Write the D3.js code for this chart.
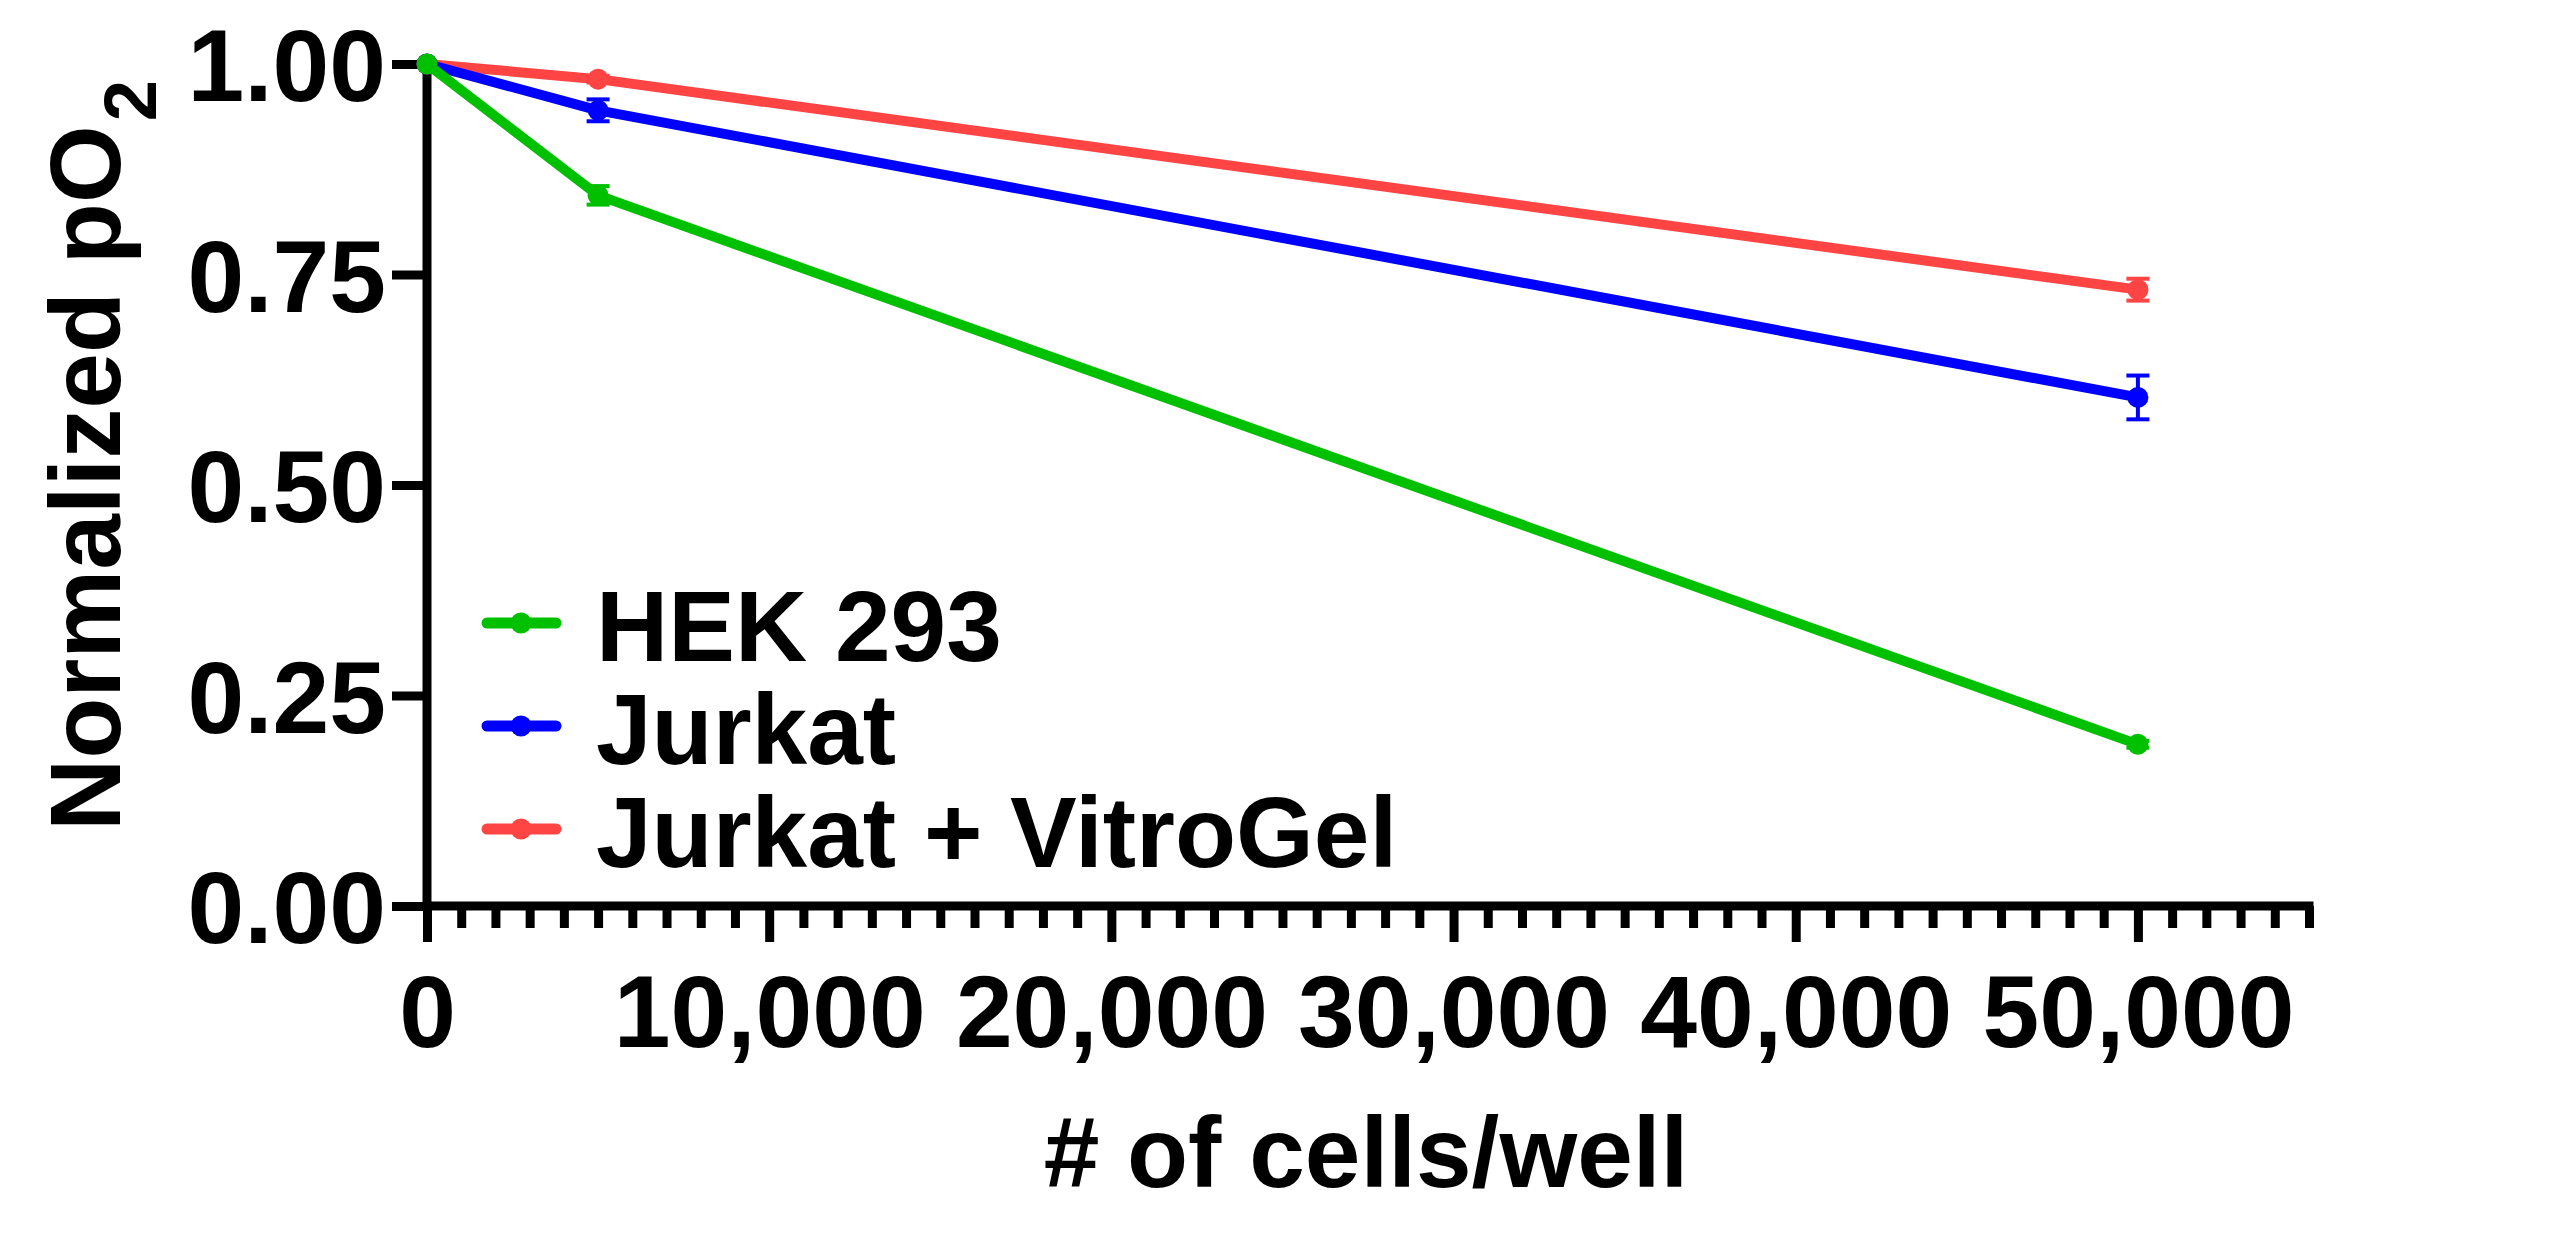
<!doctype html>
<html>
  <head>
    <meta charset="utf-8">
    <title>Normalized pO2 vs cells per well</title>
    <script src="https://cdn.jsdelivr.net/npm/d3@7"></script>
    <style>
      body { margin: 0; background: #fff; }
      text { font-family: "Liberation Sans", Arial, sans-serif; font-weight: bold; fill: #000; }
    </style>
  </head>
  <body>
    <div id="chart"></div>
  </body>
  <script>
    // cells per well
    var cells = [0, 5000, 50000];

    var seriesNames = ["HEK 293", "Jurkat", "Jurkat + VitroGel"];
    var seriesColours = ["#00c000", "#0000ff", "#ff4444"];

    // normalized pO2 (mean) and error
    var hekMean = [1.0, 0.844, 0.192];
    var hekErr = [0, 0.011, 0.004];
    var jurkatMean = [1.0, 0.945, 0.604];
    var jurkatErr = [0, 0.013, 0.026];
    var vitroMean = [1.0, 0.982, 0.732];
    var vitroErr = [0, 0.004, 0.013];

    var yTicks = [0, 0.25, 0.5, 0.75, 1.0];
    var xMajorTicks = [0, 10000, 20000, 30000, 40000, 50000];

    var width = 2560,
      height = 1234;

    var x = d3.scaleLinear().domain([0, 55000]).range([427, 2309]);
    var y = d3.scaleLinear().domain([0, 1]).range([906, 64]);

    var svg = d3.select("#chart")
                .append("svg")
                .attr("width", width)
                .attr("height", height);

    var series = [
      { name: seriesNames[0], colour: seriesColours[0], mean: hekMean, err: hekErr },
      { name: seriesNames[1], colour: seriesColours[1], mean: jurkatMean, err: jurkatErr },
      { name: seriesNames[2], colour: seriesColours[2], mean: vitroMean, err: vitroErr }
    ];

    // minor ticks every 1000 along x
    var xMinorTicks = d3.range(1000, 55001, 1000).filter(function(v) {
      return xMajorTicks.indexOf(v) < 0;
    });

    var minorAxis = svg.append("g")
      .attr("transform", "translate(0," + y(0) + ")")
      .call(d3.axisBottom(x).tickValues(xMinorTicks).tickSize(22).tickSizeOuter(0).tickFormat(""));
    minorAxis.select(".domain").remove();
    minorAxis.selectAll("line").attr("stroke", "#000").attr("stroke-width", 9);

    var xAxis = svg.append("g")
      .attr("transform", "translate(0," + y(0) + ")")
      .call(d3.axisBottom(x).tickValues(xMajorTicks).tickSize(36).tickSizeOuter(0)
        .tickFormat(d3.format(",")));
    xAxis.select(".domain").attr("stroke", "#000").attr("stroke-width", 9)
      .attr("d", "M" + x(0) + ",0H" + (x(55000) + 4.5));
    xAxis.selectAll("line").attr("stroke", "#000").attr("stroke-width", 9);
    xAxis.selectAll("text")
      .attr("y", 141)
      .attr("dy", null)
      .style("font-size", "102px")
      .style("font-family", "'Liberation Sans', Arial, sans-serif");

    var yAxis = svg.append("g")
      .attr("transform", "translate(" + x(0) + ",0)")
      .call(d3.axisLeft(y).tickValues(yTicks).tickSize(35).tickSizeOuter(0)
        .tickFormat(d3.format(".2f")));
    yAxis.select(".domain").attr("stroke", "#000").attr("stroke-width", 9)
      .attr("d", "M0," + (y(1) - 4.5) + "V" + y(0));
    yAxis.selectAll("line").attr("stroke", "#000").attr("stroke-width", 9);
    yAxis.selectAll("text")
      .attr("x", -41)
      .attr("dy", "0.36em")
      .style("font-size", "102px")
      .style("font-family", "'Liberation Sans', Arial, sans-serif");

    // axis titles
    var yTitle = svg.append("text")
      .attr("transform", "translate(120,831) rotate(-90)")
      .attr("text-anchor", "start")
      .style("font-size", "100px")
      .text("Normalized pO");
    yTitle.append("tspan")
      .attr("dx", 4)
      .attr("dy", 36)
      .style("font-size", "74px")
      .text("2");

    svg.append("text")
      .attr("x", 1366)
      .attr("y", 1187)
      .attr("text-anchor", "middle")
      .style("font-size", "100px")
      .text("# of cells/well");

    var line = d3.line()
      .x(function(d, i) { return x(cells[i]); })
      .y(function(d) { return y(d); });

    // draw last series first so HEK 293 sits on top
    var drawOrder = series.slice().reverse();

    drawOrder.forEach(function(s) {
      var g = svg.append("g");

      g.append("path")
        .attr("d", line(s.mean))
        .attr("fill", "none")
        .attr("stroke", s.colour)
        .attr("stroke-width", 10)
        .attr("stroke-linejoin", "round");

      var pts = s.mean.map(function(m, i) {
        return { x: cells[i], m: m, e: s.err[i] };
      });

      var bars = g.selectAll(".err")
        .data(pts.filter(function(d) { return d.e > 0; }))
        .enter()
        .append("g");

      bars.append("line")
        .attr("x1", function(d) { return x(d.x); })
        .attr("x2", function(d) { return x(d.x); })
        .attr("y1", function(d) { return y(d.m + d.e); })
        .attr("y2", function(d) { return y(d.m - d.e); })
        .attr("stroke", s.colour)
        .attr("stroke-width", 4);

      [1, -1].forEach(function(sign) {
        bars.append("line")
          .attr("x1", function(d) { return x(d.x) - 11.5; })
          .attr("x2", function(d) { return x(d.x) + 11.5; })
          .attr("y1", function(d) { return y(d.m + sign * d.e); })
          .attr("y2", function(d) { return y(d.m + sign * d.e); })
          .attr("stroke", s.colour)
          .attr("stroke-width", 4);
      });

      g.selectAll("circle")
        .data(pts)
        .enter()
        .append("circle")
        .attr("cx", function(d) { return x(d.x); })
        .attr("cy", function(d) { return y(d.m); })
        .attr("r", 10.5)
        .attr("fill", s.colour);
    });

    // legend
    var legend = svg.append("g");
    series.forEach(function(s, i) {
      var cy = 623 + i * 103;
      legend.append("line")
        .attr("x1", 487)
        .attr("x2", 556)
        .attr("y1", cy)
        .attr("y2", cy)
        .attr("stroke", s.colour)
        .attr("stroke-width", 11)
        .attr("stroke-linecap", "round");
      legend.append("circle")
        .attr("cx", 521)
        .attr("cy", cy)
        .attr("r", 10.5)
        .attr("fill", s.colour);
      legend.append("text")
        .attr("x", 596)
        .attr("y", cy + 38)
        .style("font-size", "100px")
        .text(s.name);
    });
  </script>
</html>
